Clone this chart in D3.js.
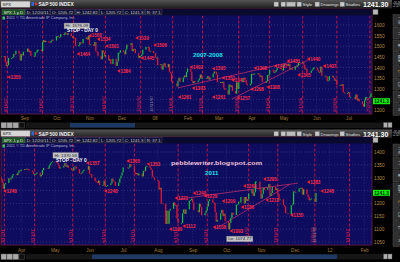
<!DOCTYPE html>
<html>
<head>
<meta charset="utf-8">
<title>SPX 2007-2008 vs 2011</title>
<script src="https://cdnjs.cloudflare.com/ajax/libs/d3/7.8.5/d3.min.js"></script>
<style>
  html, body { margin: 0; padding: 0; background: #000; overflow: hidden; }
  svg { display: block; }
  text { font-family: "Liberation Sans", Arial, sans-serif; }
</style>
</head>
<body>
<svg id="chart" width="400" height="262"></svg>
<script>
// market holidays inside both windows, skipped when laying out the trading days
const holidays = ["2007-09-03", "2007-11-22", "2007-12-25", "2008-01-01", "2008-01-21", "2008-02-18",
  "2008-03-21", "2008-05-26", "2008-07-04", "2011-04-22", "2011-05-30", "2011-07-04", "2011-09-05", "2011-11-24"]

// S&P 500 daily closes, Aug 10 2007 - Jul 22 2008
const aug07 = [1453, 1453, 1426, 1406, 1411, 1445, 1445, 1448, 1464, 1462, 1479, 1466, 1433, 1463, 1457, 1474]
const sep07 = [1489, 1472, 1478, 1454, 1451, 1471, 1471, 1483, 1484, 1477, 1519, 1529, 1519, 1525, 1518, 1517, 1525, 1531, 1527]
const oct07 = [1547, 1547, 1543, 1543, 1557, 1553, 1565, 1562, 1554, 1561, 1548, 1539, 1541, 1540, 1500, 1506, 1520, 1516, 1514, 1535, 1541, 1531, 1549]
const nov07 = [1508, 1509, 1502, 1520, 1475, 1474, 1453, 1439, 1481, 1470, 1452, 1458, 1433, 1439, 1416, 1441, 1407, 1428, 1469, 1470, 1481]
const dec07 = [1473, 1462, 1485, 1507, 1505, 1515, 1477, 1486, 1488, 1467, 1445, 1454, 1454, 1461, 1484, 1496, 1497, 1476, 1478, 1468]
const jan08 = [1447, 1447, 1411, 1416, 1390, 1409, 1420, 1401, 1416, 1380, 1373, 1333, 1325, 1311, 1338, 1352, 1331, 1353, 1362, 1355, 1378]
const feb08 = [1395, 1380, 1336, 1326, 1336, 1331, 1339, 1348, 1367, 1349, 1350, 1348, 1360, 1343, 1353, 1371, 1381, 1380, 1367, 1331]
const mar08 = [1331, 1327, 1333, 1304, 1294, 1273, 1320, 1308, 1315, 1289, 1277, 1330, 1299, 1330, 1350, 1352, 1342, 1325, 1316, 1323]
const apr08 = [1370, 1368, 1370, 1371, 1373, 1366, 1355, 1361, 1332, 1329, 1335, 1365, 1366, 1390, 1388, 1375, 1379, 1388, 1398, 1397, 1391, 1386]
const may08 = [1409, 1414, 1407, 1418, 1392, 1397, 1389, 1404, 1403, 1408, 1423, 1425, 1426, 1413, 1391, 1394, 1375, 1385, 1391, 1399, 1400]
const jun08 = [1386, 1377, 1378, 1404, 1361, 1361, 1358, 1335, 1339, 1360, 1361, 1351, 1338, 1343, 1318, 1318, 1315, 1322, 1284, 1278, 1280]
const jul08 = [1284, 1261, 1262, 1252, 1273, 1245, 1253, 1240, 1228, 1215, 1245, 1260, 1261, 1261, 1278]

// S&P 500 daily closes, Mar 14 2011 - Dec 20 2011
const mar11 = [1296, 1282, 1257, 1274, 1279, 1298, 1293, 1298, 1309, 1314, 1310, 1319, 1328, 1326]
const apr11 = [1332, 1333, 1332, 1335, 1333, 1328, 1324, 1314, 1314, 1315, 1320, 1305, 1312, 1330, 1338, 1335, 1348, 1356, 1360, 1364]
const may11 = [1361, 1357, 1348, 1336, 1340, 1347, 1357, 1342, 1348, 1338, 1330, 1328, 1341, 1344, 1333, 1317, 1316, 1320, 1326, 1331, 1345]
const jun11 = [1315, 1313, 1300, 1286, 1284, 1280, 1289, 1271, 1271, 1288, 1266, 1268, 1271, 1278, 1296, 1287, 1284, 1268, 1281, 1297, 1308, 1321]
const jul11 = [1340, 1337, 1339, 1353, 1344, 1320, 1314, 1318, 1309, 1316, 1305, 1327, 1326, 1343, 1345, 1338, 1331, 1304, 1300, 1292]
const aug11 = [1287, 1254, 1261, 1200, 1199, 1120, 1172, 1121, 1172, 1179, 1204, 1193, 1194, 1140, 1124, 1124, 1162, 1177, 1159, 1177, 1210, 1213, 1219]
const sep11 = [1204, 1174, 1166, 1199, 1186, 1154, 1162, 1172, 1188, 1209, 1216, 1204, 1202, 1166, 1129, 1136, 1162, 1175, 1151, 1160, 1131]
const oct11 = [1099, 1124, 1144, 1164, 1155, 1195, 1196, 1207, 1204, 1225, 1200, 1225, 1210, 1216, 1239, 1254, 1229, 1243, 1285, 1285, 1253]
const nov11 = [1219, 1237, 1261, 1253, 1262, 1275, 1230, 1240, 1264, 1252, 1258, 1237, 1216, 1216, 1193, 1188, 1162, 1159, 1193, 1196, 1247]
const dec11 = [1244, 1245, 1258, 1259, 1261, 1234, 1255, 1236, 1225, 1212, 1216, 1219, 1206, 1241]

// red price bubbles [date, price]
const tags0708 = [["2007-08-16", 1355], ["2007-10-20", 1464], ["2007-10-31", 1550], ["2007-11-08", 1534], ["2007-11-16", 1501],
  ["2007-11-27", 1384], ["2007-12-14", 1539], ["2007-12-19", 1445], ["2007-12-31", 1506], ["2008-01-23", 1261],
  ["2008-02-03", 1402], ["2008-02-05", 1303], ["2008-02-24", 1395], ["2008-02-24", 1261], ["2008-03-04", 1351],
  ["2008-03-13", 1341], ["2008-03-18", 1257], ["2008-03-31", 1298], ["2008-04-03", 1398], ["2008-04-15", 1308],
  ["2008-04-22", 1407], ["2008-05-04", 1431], ["2008-05-14", 1365], ["2008-05-23", 1440], ["2008-06-07", 1407]]
const tags2011 = [["2011-03-16", 1248], ["2011-05-29", 1357], ["2011-06-14", 1248], ["2011-07-04", 1365], ["2011-07-22", 1353],
  ["2011-08-11", 1100], ["2011-08-16", 1221], ["2011-08-23", 1112], ["2011-09-01", 1240], ["2011-09-11", 1229],
  ["2011-09-19", 1108], ["2011-09-27", 1209], ["2011-10-04", 1093], ["2011-10-14", 1186], ["2011-10-16", 1268],
  ["2011-11-03", 1295], ["2011-11-05", 1213], ["2011-11-27", 1155], ["2011-12-12", 1283], ["2011-12-24", 1248]]

// dashed red date markers
const dashes0708 = ["2007-08-16", "2007-09-18", "2007-10-17", "2007-11-16", "2007-12-19", "2008-01-18",
  "2008-02-15", "2008-03-20", "2008-04-18", "2008-05-19", "2008-06-20", "2008-07-21"]
const dashes2011 = ["2011-03-17", "2011-04-13", "2011-05-17", "2011-06-15", "2011-07-11", "2011-08-19",
  "2011-09-14", "2011-10-21", "2011-11-16", "2011-12-19", "2012-01-19"]

// trend lines [[date, price], [date, price]]
const trends0708 = [[["2008-01-23", 1304], ["2008-05-16", 1435]], [["2008-03-14", 1252], ["2008-05-24", 1435]]]
const trends2011 = [[["2011-08-20", 1217], ["2011-12-04", 1279]], [["2011-09-21", 1100], ["2011-11-27", 1275]]]

// hi / lo flags [kind, date, price]
const extremes0708 = [["Hi", "2007-10-11", 1576.09]]
const extremes2011 = [["Hi", "2011-05-02", 1370.58], ["Lo", "2011-10-04", 1074.77]]

const headerFields = ["SPX 1 y D", "D: 12/20/11", "O: 1205.72", "H: 1242.82", "L: 1205.72", "C: 1241.3", "R: 37.1"]
const lastPrice = 1241.3
const sideTabs = ["TTM", "TT", "AT", "BBH", "C", "CS", "LT", "N"]

const parse = d3.timeParse("%Y-%m-%d")
const iso = d3.timeFormat("%Y-%m-%d")
const shortDate = d3.timeFormat("%-m/%-d/%y")

function tradingDays(start, end) {
  const off = new Set(holidays)
  return d3.timeDay.range(parse(start), d3.timeDay.offset(parse(end), 1))
    .filter(d => d.getDay() % 6 !== 0 && !off.has(iso(d)))
}

// candle body runs from the previous close to this close
function toBars(start, end, closes, firstOpen) {
  const days = tradingDays(start, end)
  if (days.length !== closes.length) console.warn("bar count", days.length, closes.length)
  return closes.map((c, i) => ({ date: days[i], open: i ? closes[i - 1] : firstOpen, close: c }))
}

const bars0708 = toBars("2007-08-10", "2008-07-22",
  [].concat(aug07, sep07, oct07, nov07, dec07, jan08, feb08, mar08, apr08, may08, jun08, jul08), 1453)
const bars2011 = toBars("2011-03-14", "2011-12-20",
  [].concat(mar11, apr11, may11, jun11, jul11, aug11, sep11, oct11, nov11, dec11), 1304)

const svg = d3.select("#chart")
const plotLeft = 1
const plotRight = 372

const grad = svg.append("defs").append("linearGradient").attr("id", "bar").attr("x2", 0).attr("y2", 1)
grad.append("stop").attr("offset", 0).attr("stop-color", "#555")
grad.append("stop").attr("offset", 1).attr("stop-color", "#1c1c1c")

const panels = [
  { top: 0, plotTop: 9, plotBottom: 114, monthY: 117, scrollY: 122.5, thumb: [70, 135],
    domain: ["2007-08-10", "2008-07-23"], prices: [1200, 1600], priceY: [110, 25],
    bars: bars0708, tags: tags0708, dashes: dashes0708, trends: trends0708, extremes: extremes0708,
    marker: "2007-12-31",
    captions: [{ text: "2007-2008", x: 193, y: 56.5, fill: "#18e4ee", size: 6.2 }] },
  { top: 129.5, plotTop: 137, plotBottom: 245, monthY: 248.5, scrollY: 254, thumb: [92, 337],
    domain: ["2011-03-14", "2012-02-08"], prices: [1050, 1400], priceY: [242, 152],
    bars: bars2011, tags: tags2011, dashes: dashes2011, trends: trends2011, extremes: extremes2011,
    marker: "2011-12-21",
    captions: [{ text: "pebblewriter.blogspot.com", x: 171, y: 165, fill: "#f2c2dc", size: 6.2, len: 91 },
               { text: "2011", x: 205, y: 174.5, fill: "#18e4ee", size: 6.2 }] }
]

panels.forEach(drawPanel)

function drawPanel(p) {
  const g = svg.append("g")
  const x = d3.scaleTime().domain(p.domain.map(parse)).range([plotLeft, plotRight])
  const y = d3.scaleLinear().domain(p.prices).range(p.priceY)
  const headBottom = p.plotTop + 6.5
  const clipId = "clip" + p.top

  drawToolbar(g, p.top)

  g.append("rect")
    .attr("x", plotLeft).attr("y", p.plotTop)
    .attr("width", plotRight - plotLeft).attr("height", p.plotBottom - p.plotTop)
    .attr("fill", "#0e0c5e").attr("stroke", "#6e2252").attr("stroke-width", 0.8)

  g.append("clipPath").attr("id", clipId).append("rect")
    .attr("x", plotLeft).attr("y", headBottom)
    .attr("width", plotRight - plotLeft).attr("height", p.plotBottom - headBottom)
  const plot = g.append("g").attr("clip-path", `url(#${clipId})`)

  // dotted grid
  const ticks = d3.range(p.prices[0], p.prices[1] + 1, 50)
  const months = d3.timeMonth.range(x.domain()[0], x.domain()[1])
  plot.selectAll("line.hgrid").data(ticks).join("line")
    .attr("x1", plotLeft).attr("x2", plotRight)
    .attr("y1", d => y(d)).attr("y2", d => y(d))
    .attr("stroke", "#4a4a8c").attr("stroke-width", 0.6).attr("stroke-dasharray", "1,2")
  plot.selectAll("line.vgrid").data(months).join("line")
    .attr("x1", d => x(d)).attr("x2", d => x(d))
    .attr("y1", headBottom).attr("y2", p.plotBottom)
    .attr("stroke", "#3c3c80").attr("stroke-width", 0.6).attr("stroke-dasharray", "1,2")

  // dashed date markers
  const dl = plot.selectAll("g.dash").data(p.dashes).join("g")
    .attr("transform", d => `translate(${x(parse(d))},0)`)
  dl.append("line")
    .attr("y1", headBottom).attr("y2", p.plotBottom)
    .attr("stroke", "#d2173f").attr("stroke-width", 0.9).attr("stroke-dasharray", "3,2")
  dl.append("text")
    .attr("transform", `translate(-0.6,${p.plotBottom - 2}) rotate(-90)`)
    .attr("font-size", 4.2).attr("fill", "#e0214d")
    .text(d => shortDate(parse(d)))

  plot.append("text")
    .attr("transform", `translate(${x(parse(p.marker)) - 0.6},${p.plotBottom - 2}) rotate(-90)`)
    .attr("font-size", 4.2).attr("fill", "#8a8a9a")
    .text(shortDate(parse(p.marker)))

  // trend lines
  plot.selectAll("line.trend").data(p.trends).join("line")
    .attr("x1", d => x(parse(d[0][0]))).attr("y1", d => y(d[0][1]))
    .attr("x2", d => x(parse(d[1][0]))).attr("y2", d => y(d[1][1]))
    .attr("stroke", "#d2306c").attr("stroke-width", 0.7)

  // candles
  const w = 1.2
  plot.selectAll("rect.bar").data(p.bars).join("rect")
    .attr("x", d => x(d.date) - w / 2)
    .attr("y", d => y(Math.max(d.open, d.close)))
    .attr("width", w)
    .attr("height", d => Math.max(0.8, Math.abs(y(d.open) - y(d.close))))
    .attr("fill", d => d.close >= d.open ? "#14c23e" : "#f2182e")

  // price bubbles
  const tg = plot.selectAll("g.tag").data(p.tags).join("g")
    .attr("transform", d => `translate(${x(parse(d[0]))},${y(d[1])})`)
  tg.append("path").attr("d", "M0,0L3,-1.9L3,1.9Z").attr("fill", "#ff1e3c")
  tg.append("text")
    .attr("x", 3.2).attr("dy", "0.36em")
    .attr("font-size", 4.6).attr("font-weight", "bold").attr("fill", "#ff2a48")
    .text(d => d[1])

  // hi / lo flags
  p.extremes.forEach(([kind, date, price]) => {
    const cx = x(parse(date))
    const cy = y(price)
    const by = kind === "Hi" ? cy - 7 : cy + 0.5
    const fg = g.append("g")
    const t = fg.append("text")
      .attr("x", cx - 1.5).attr("y", by + 4.3)
      .attr("font-size", 4.4).attr("fill", "#1a1a1a")
      .text(`${kind}: ${price.toFixed(2)}`)
    const tw = t.node().getComputedTextLength()
    fg.insert("rect", "text")
      .attr("x", cx - 3).attr("y", by).attr("width", tw + 3).attr("height", 5.6)
      .attr("fill", "#c4c4c8").attr("stroke", "#7a7a80").attr("stroke-width", 0.4)
    if (kind === "Hi") {
      g.append("text")
        .attr("x", cx).attr("y", cy + 2)
        .attr("font-size", 4.8).attr("font-weight", "bold").attr("fill", "#f4f4f4")
        .text("STOP - DAY 0")
    }
  })

  p.captions.forEach(c => {
    const t = g.append("text")
      .attr("x", c.x).attr("y", c.y)
      .attr("font-family", "'Liberation Mono', 'DejaVu Sans Mono', monospace")
      .attr("font-weight", "bold").attr("font-size", c.size).attr("fill", c.fill)
      .text(c.text)
    if (c.len) t.attr("textLength", c.len).attr("lengthAdjust", "spacingAndGlyphs")
  })

  // header rows
  g.append("rect")
    .attr("x", plotLeft).attr("y", p.plotTop).attr("width", plotRight - plotLeft).attr("height", headBottom - p.plotTop)
    .attr("fill", "#0a0a2e")
  let hx = 2
  headerFields.forEach((f, i) => {
    const fg = g.append("g")
    const t = fg.append("text")
      .attr("x", hx + 1.4).attr("y", p.plotTop + 4.7)
      .attr("font-size", 4.3).attr("fill", i ? "#cfcfd8" : "#e8f4e8")
      .text(f)
    const tw = t.node().getComputedTextLength()
    fg.insert("rect", "text")
      .attr("x", hx).attr("y", p.plotTop + 0.7).attr("width", tw + 2.8).attr("height", 5.2)
      .attr("fill", i ? "#101034" : "#1d4f22").attr("stroke", i ? "#5a5a7a" : "#4ea04e").attr("stroke-width", 0.4)
    hx += tw + 3.4
  })
  g.append("rect").attr("x", 2.5).attr("y", headBottom + 1).attr("width", 2.4).attr("height", 3)
    .attr("fill", "#3ccf5a")
  g.append("text")
    .attr("x", 6.5).attr("y", headBottom + 3.8)
    .attr("font-size", 3.9).attr("fill", "#b8b8c8")
    .text("2011 \u00a9 TD Ameritrade IP Company, Inc.")
  g.append("rect").attr("x", 373).attr("y", p.plotTop + 0.5).attr("width", 5).attr("height", 5)
    .attr("fill", "#b8b8b8").attr("stroke", "#666").attr("stroke-width", 0.4)

  // price axis; the level hidden behind the last-price box is left out
  const ly = y(lastPrice)
  const ya = g.append("g").attr("transform", `translate(${plotRight},0)`)
    .call(d3.axisRight(y).tickValues(ticks.filter(t => Math.abs(y(t) - ly) > 5))
      .tickSize(0).tickPadding(2).tickFormat(d3.format("d")))
  ya.select(".domain").remove()
  ya.selectAll("text").attr("font-size", 4.8).attr("fill", "#b48a4c").attr("font-family", null)

  // last price box
  g.append("rect").attr("x", 373).attr("y", ly - 3).attr("width", 17).attr("height", 6).attr("fill", "#0cf00c")
  g.append("text").attr("x", 374.2).attr("y", ly + 1.7)
    .attr("font-size", 4.8).attr("font-weight", "bold").attr("fill", "#0a2a0a")
    .text(lastPrice)

  // month axis
  const xa = g.append("g").attr("transform", `translate(0,${p.monthY})`)
    .call(d3.axisBottom(x).tickValues(months).tickSize(0).tickPadding(0)
      .tickFormat(d => d.getMonth() === 0 ? d3.timeFormat("%y")(d) : d3.timeFormat("%b")(d)))
  xa.select(".domain").remove()
  xa.selectAll("text").attr("font-size", 4.6).attr("fill", "#a67c3e").attr("font-family", null)

  drawScrollbar(g, p.scrollY, p.thumb)
  drawSidebar(g, p.top + 14, p.plotBottom + 2)
}

function drawToolbar(g, top) {
  g.append("rect").attr("x", 0).attr("y", top).attr("width", 392).attr("height", 8.5).attr("fill", "url(#bar)")
  g.append("rect").attr("x", 1).attr("y", top + 1.2).attr("width", 29).attr("height", 6)
    .attr("fill", "#d6d6d6").attr("stroke", "#8a8a8a").attr("stroke-width", 0.4)
  g.append("text").attr("x", 2.5).attr("y", top + 5.8).attr("font-size", 4.4).attr("fill", "#222").text("SPX")
  g.append("rect").attr("x", 31.5).attr("y", top + 2).attr("width", 2.5).attr("height", 4).attr("fill", "#2a6ad8")
  g.append("circle").attr("cx", 36).attr("cy", top + 4).attr("r", 1.4).attr("fill", "#e0302a")
  g.append("text").attr("x", 38.5).attr("y", top + 6).attr("font-size", 4.8).attr("font-weight", "bold")
    .attr("fill", "#f0f0f0").text("S&P 500 INDEX")

  const buttons = [["", 274], ["", 281], ["Style", 297], ["Drawings", 315], ["Studies", 340]]
  buttons.forEach(([label, bx]) => {
    g.append("rect").attr("x", bx).attr("y", top + 2).attr("width", 4.5).attr("height", 4.5)
      .attr("fill", "#c8c8c8").attr("stroke", "#707070").attr("stroke-width", 0.4)
    if (label) {
      g.append("text").attr("x", bx + 5.5).attr("y", top + 6).attr("font-size", 4.4).attr("fill", "#e4e4e4").text(label)
    }
  })
  g.append("rect").attr("x", 286.5).attr("y", top + 2).attr("width", 9).attr("height", 4.5)
    .attr("fill", "#bdbdbd").attr("stroke", "#707070").attr("stroke-width", 0.4)
  g.append("text").attr("x", 363).attr("y", top + 7).attr("font-size", 7).attr("font-weight", "bold")
    .attr("fill", "#ffffff").text("1241.30")
  g.append("text").attr("x", 392.5).attr("y", top + 3.6).attr("font-size", 2.6).attr("fill", "#cfcfcf").text("+30.48")
  g.append("text").attr("x", 392.5).attr("y", top + 6.8).attr("font-size", 2.6).attr("fill", "#cfcfcf").text("+2.52%")
}

function drawScrollbar(g, sy, thumb) {
  g.append("rect").attr("x", 26).attr("y", sy).attr("width", 357).attr("height", 5.5).attr("fill", "#161616")
  g.append("rect").attr("x", thumb[0]).attr("y", sy + 0.5).attr("width", thumb[1] - thumb[0]).attr("height", 4.5)
    .attr("fill", "#1e3a64")
  ;[1, 7, 13, 19].forEach((bx, i) => {
    g.append("rect").attr("x", bx).attr("y", sy).attr("width", 5.5).attr("height", 5.5)
      .attr("fill", i === 3 ? "#111" : "#a8a8a8").attr("stroke", "#666").attr("stroke-width", 0.4)
  })
  ;[383.5, 388].forEach(bx => {
    g.append("rect").attr("x", bx).attr("y", sy).attr("width", 4).attr("height", 5)
      .attr("fill", "#b0b0b0").attr("stroke", "#555").attr("stroke-width", 0.4)
  })
}

function drawSidebar(g, y0, y1) {
  const step = (y1 - y0) / sideTabs.length
  sideTabs.forEach((t, i) => {
    const ty = y0 + i * step
    g.append("rect").attr("x", 393).attr("y", ty + 0.5).attr("width", 6.5).attr("height", step - 1)
      .attr("fill", "#2e2e2e").attr("stroke", "#5c5c5c").attr("stroke-width", 0.4)
    g.append("text")
      .attr("transform", `translate(397.8,${ty + step / 2}) rotate(90)`)
      .attr("text-anchor", "middle").attr("font-size", 3.6)
      .attr("fill", t === "C" ? "#e8c020" : "#c8c8c8")
      .text(t)
  })
}
</script>
</body>
</html>
